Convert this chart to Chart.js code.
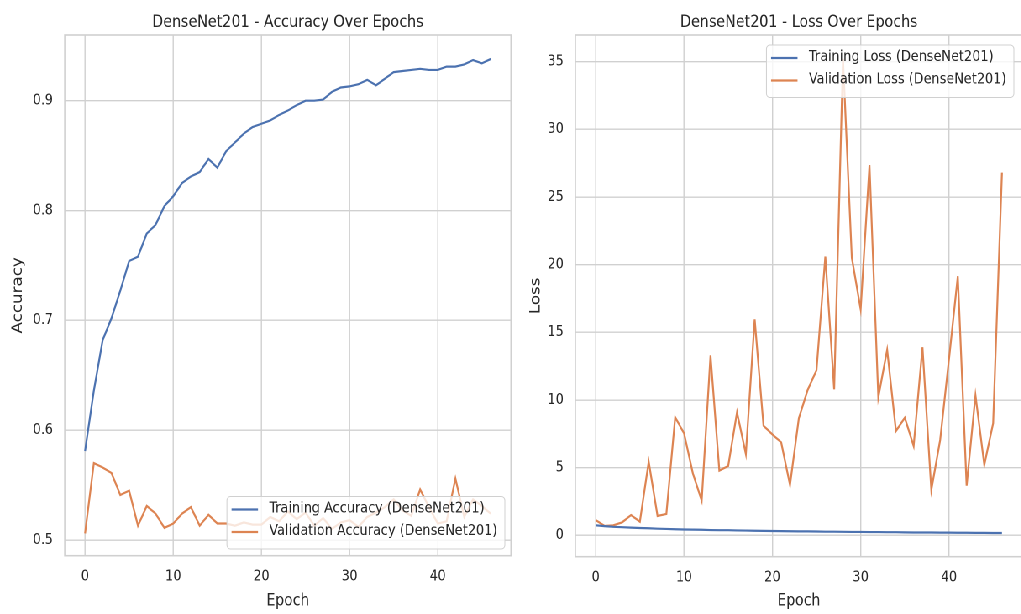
<!DOCTYPE html>
<html>
<head>
<meta charset="utf-8">
<script src="https://cdn.jsdelivr.net/npm/chart.js@4.4.1/dist/chart.umd.min.js"></script>
<style>
    html, body { margin: 0; padding: 0; background: #fff; overflow: hidden; }
    /* the source figure was squeezed horizontally, so draw wide and squeeze */
    #page { position: absolute; left: 0; top: 0; width: 1220px; height: 614px; transform: scaleX(0.84); transform-origin: 0 0; }
    canvas { position: absolute; top: 0; }
</style>
</head>
<body>
<div id="page">
    <canvas id="accChart" width="640" height="614" style="left:0px"></canvas>
    <canvas id="lossChart" width="610" height="614" style="left:610px"></canvas>
</div>
<script>
const epochs = [0, 1, 2, 3, 4, 5, 6, 7, 8, 9, 10, 11, 12, 13, 14, 15, 16, 17, 18, 19, 20, 21, 22, 23,
    24, 25, 26, 27, 28, 29, 30, 31, 32, 33, 34, 35, 36, 37, 38, 39, 40, 41, 42, 43, 44, 45, 46];

const trainAcc = [0.581, 0.636, 0.682, 0.702, 0.727, 0.754, 0.758, 0.779, 0.787, 0.804, 0.813, 0.825,
    0.831, 0.835, 0.847, 0.839, 0.854, 0.862, 0.870, 0.876, 0.879, 0.882, 0.887, 0.891, 0.896, 0.900,
    0.900, 0.901, 0.908, 0.912, 0.913, 0.915, 0.919, 0.914, 0.920, 0.926, 0.927, 0.928, 0.929, 0.928,
    0.928, 0.931, 0.931, 0.933, 0.937, 0.934, 0.938];
const valAcc = [0.506, 0.570, 0.566, 0.561, 0.541, 0.545, 0.513, 0.531, 0.524, 0.511, 0.515, 0.524,
    0.530, 0.513, 0.523, 0.515, 0.515, 0.513, 0.516, 0.514, 0.514, 0.521, 0.517, 0.526, 0.519, 0.525,
    0.513, 0.520, 0.510, 0.516, 0.518, 0.512, 0.521, 0.525, 0.530, 0.537, 0.527, 0.522, 0.546, 0.530,
    0.515, 0.517, 0.556, 0.521, 0.537, 0.531, 0.524];

const trainLoss = [0.74, 0.68, 0.63, 0.60, 0.57, 0.54, 0.52, 0.49, 0.47, 0.45, 0.43, 0.42, 0.41, 0.39,
    0.38, 0.38, 0.36, 0.35, 0.34, 0.33, 0.32, 0.31, 0.30, 0.29, 0.29, 0.28, 0.27, 0.27, 0.26, 0.25,
    0.25, 0.24, 0.24, 0.23, 0.23, 0.22, 0.21, 0.21, 0.21, 0.20, 0.20, 0.19, 0.19, 0.18, 0.18, 0.17, 0.17];
const valLoss = [1.13, 0.69, 0.74, 0.96, 1.50, 1.01, 5.44, 1.43, 1.58, 8.72, 7.54, 4.58, 2.56, 13.3,
    4.78, 5.12, 9.09, 6.01, 15.96, 8.10, 7.46, 6.87, 3.72, 8.65, 10.74, 12.2, 20.6, 10.79, 35.2, 20.5,
    16.7, 27.36, 10.2, 13.7, 7.71, 8.69, 6.6, 13.9, 3.35, 7.04, 13.0, 19.15, 3.67, 10.34, 5.2, 8.28, 26.8];

const epochTicks = [0, 10, 20, 30, 40];
const accTicks = [0.5, 0.6, 0.7, 0.8, 0.9];
const lossTicks = [0, 5, 10, 15, 20, 25, 30, 35];

const BLUE = "#4c72b0";
const ORANGE = "#dd8452";
const TEXT = "#262626";
const GRID = "#d0d0d0";
const FONT = "DejaVu Sans";

const toPoints = (values) => epochs.map((e, i) => ({ x: e, y: values[i] }));

// frame, centered title and a matplotlib-like legend box
const decor = {
    id: "decor",
    afterDraw(chart, args, opts) {
        const { ctx, chartArea: a } = chart;
        ctx.save();
        ctx.strokeStyle = GRID;
        ctx.lineWidth = 1.6;
        ctx.strokeRect(a.left, a.top, a.right - a.left, a.bottom - a.top);

        ctx.fillStyle = TEXT;
        ctx.font = "17px '" + FONT + "'";
        ctx.textAlign = "center";
        ctx.textBaseline = "alphabetic";
        ctx.fillText(opts.title, (a.left + a.right) / 2, 27);

        ctx.font = "15.3px '" + FONT + "'";
        const sets = chart.data.datasets;
        const w = 50.5 + Math.max(...sets.map((d) => ctx.measureText(d.label).width)) + 9;
        const h = 52.5;
        const x = a.right - opts.dx - w;
        const y = opts.corner === "bottom" ? a.bottom - opts.dy - h : a.top + opts.dy;
        ctx.beginPath();
        ctx.roundRect(x, y, w, h, 4);
        ctx.fillStyle = "rgba(255,255,255,0.8)";
        ctx.fill();
        ctx.strokeStyle = GRID;
        ctx.lineWidth = 1;
        ctx.stroke();
        sets.forEach((d, i) => {
            const ry = y + 13 + i * 22.5;
            ctx.strokeStyle = d.borderColor;
            ctx.lineWidth = 2.2;
            ctx.beginPath();
            ctx.moveTo(x + 5.5, ry);
            ctx.lineTo(x + 37, ry);
            ctx.stroke();
            ctx.fillStyle = TEXT;
            ctx.textAlign = "left";
            ctx.textBaseline = "middle";
            ctx.fillText(d.label, x + 50.5, ry - 1);
        });
        ctx.restore();
    },
};

const makeChart = (id, cfg) =>
    new Chart(document.getElementById(id), {
        type: "line",
        data: {
            datasets: cfg.series.map((s) => ({
                label: s.label,
                data: toPoints(s.values),
                borderColor: s.color,
                backgroundColor: s.color,
                borderWidth: 2.2,
                pointRadius: 0,
                tension: 0,
            })),
        },
        options: {
            responsive: false,
            maintainAspectRatio: false,
            devicePixelRatio: 2,
            animation: false,
            events: [],
            layout: { padding: { top: 35, right: cfg.padRight, left: 0, bottom: 0 } },
            plugins: {
                legend: { display: false },
                tooltip: { enabled: false },
                title: { display: false },
                decor: cfg.decor,
            },
            scales: {
                x: {
                    type: "linear",
                    min: -2.3,
                    max: 48.3,
                    afterBuildTicks: (s) => { s.ticks = epochTicks.map((v) => ({ value: v })); },
                    afterFit: (s) => { s.height = cfg.xHeight; },
                    grid: { color: GRID, lineWidth: 1.4, drawTicks: false },
                    border: { display: false },
                    ticks: { padding: 12, color: TEXT, font: { family: FONT, size: 15 } },
                    title: {
                        display: true,
                        text: "Epoch",
                        color: TEXT,
                        font: { family: FONT, size: 16.7 },
                        padding: { top: 0, bottom: 3 },
                    },
                },
                y: {
                    min: cfg.yMin,
                    max: cfg.yMax,
                    afterBuildTicks: (s) => { s.ticks = cfg.yTicks.map((v) => ({ value: v })); },
                    afterFit: (s) => { s.width = cfg.yWidth; },
                    grid: { color: GRID, lineWidth: 1.4, drawTicks: false },
                    border: { display: false },
                    ticks: {
                        padding: 14,
                        color: TEXT,
                        font: { family: FONT, size: 15 },
                        callback: cfg.tickFormat,
                    },
                    title: {
                        display: true,
                        text: cfg.yTitle,
                        color: TEXT,
                        font: { family: FONT, size: 16.7 },
                        padding: { top: cfg.yTitlePad, bottom: 0 },
                    },
                },
            },
        },
        plugins: [decor],
    });

window.chartAcc = makeChart("accChart", {
    series: [
        { label: "Training Accuracy (DenseNet201)", values: trainAcc, color: BLUE },
        { label: "Validation Accuracy (DenseNet201)", values: valAcc, color: ORANGE },
    ],
    yMin: 0.4857,
    yMax: 0.9598,
    yTicks: accTicks,
    tickFormat: (v) => v.toFixed(1),
    yTitle: "Accuracy",
    yTitlePad: 11.5,
    yWidth: 77.1,
    xHeight: 58.3,
    padRight: 31.7,
    decor: { title: "DenseNet201 - Accuracy Over Epochs", corner: "bottom", dx: 7.3, dy: 6.7 },
});

window.chartLoss = makeChart("lossChart", {
    series: [
        { label: "Training Loss (DenseNet201)", values: trainLoss, color: BLUE },
        { label: "Validation Loss (DenseNet201)", values: valLoss, color: ORANGE },
    ],
    yMin: -1.58,
    yMax: 36.97,
    yTicks: lossTicks,
    tickFormat: (v) => String(v),
    yTitle: "Loss",
    yTitlePad: 18,
    yWidth: 75,
    xHeight: 57.3,
    padRight: 3,
    decor: { title: "DenseNet201 - Loss Over Epochs", corner: "top", dx: 10, dy: 10 },
});
</script>
</body>
</html>
